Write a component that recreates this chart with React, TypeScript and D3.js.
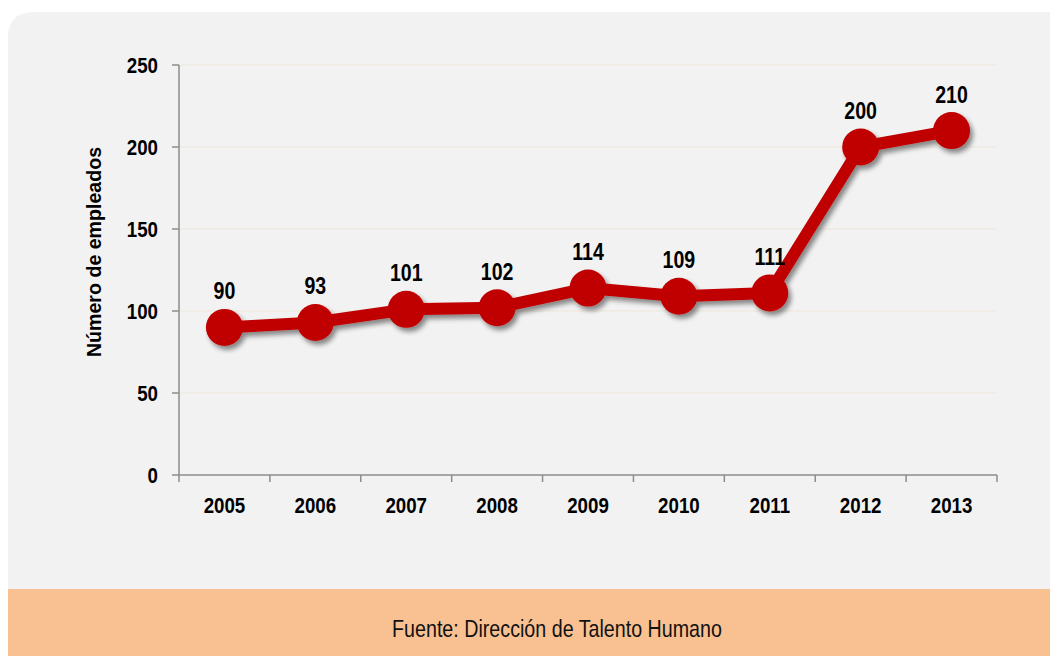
import React from "react";
import * as d3 from "d3";

const years = ["2005", "2006", "2007", "2008", "2009", "2010", "2011", "2012", "2013"];
const employees = [90, 93, 101, 102, 114, 109, 111, 200, 210];
const yTicks = [0, 50, 100, 150, 200, 250];
const yTitle = "Número de empleados";
const source = "Fuente: Dirección de Talento Humano";

const W = 1050;
const H = 656;
const FONT = "'Liberation Sans', Arial, sans-serif";

type NTProps = {
  x: number;
  y: number;
  sx?: number;
  size: number;
  bold?: boolean;
  anchor?: "start" | "middle" | "end";
  children: React.ReactNode;
};

function NText({ x, y, sx = 0.85, size, bold = true, anchor = "middle", children }: NTProps) {
  return (
    <text
      transform={`translate(${x},${y}) scale(${sx},1)`}
      textAnchor={anchor}
      fontFamily={FONT}
      fontWeight={bold ? "bold" : "normal"}
      fontSize={size}
      fill="#000"
    >
      {children}
    </text>
  );
}

export default function App() {
  const left = 179, right = 997, top = 65, bottom = 475;
  const x = d3.scaleBand<string>().domain(years).range([left, right]);
  const y = d3.scaleLinear().domain([0, 250]).range([bottom, top]);
  const cx = (i: number) => (x(years[i]) as number) + x.bandwidth() / 2;
  const line = d3
    .line<number>()
    .x((_, i) => cx(i))
    .y((d) => y(d));
  const boundaries = [...years.map((yr) => x(yr) as number), right];

  const panelPath = `M8,589 L8,38 Q8,12 34,12 L${W},12 L${W},589 Z`;

  return (
    <svg width={W} height={H} style={{ position: "absolute", left: 0, top: 0 }}>
      <defs>
        <filter id="sh" x="-50%" y="-50%" width="200%" height="200%">
          <feGaussianBlur in="SourceAlpha" stdDeviation="2.5" />
          <feOffset dx="3" dy="4" result="b" />
          <feComponentTransfer>
            <feFuncA type="linear" slope="0.45" />
          </feComponentTransfer>
          <feMerge>
            <feMergeNode />
            <feMergeNode in="SourceGraphic" />
          </feMerge>
        </filter>
      </defs>
      <rect x={0} y={0} width={W} height={H} fill="#ffffff" />
      <path d={panelPath} fill="#f2f2f2" />
      <rect x={8} y={589} width={W - 8} height={H - 589} fill="#f9c192" />
      <text
        transform={`translate(557,637) scale(0.82,1)`}
        textAnchor="middle"
        fontFamily={FONT}
        fontSize={24}
        fill="#111"
      >
        {source}
      </text>

      {yTicks.filter((t) => t > 0).map((t) => (
        <line key={"g" + t} x1={left} x2={right} y1={y(t)} y2={y(t)} stroke="#ece7da" strokeWidth={1} />
      ))}

      <line x1={left} x2={left} y1={top} y2={bottom} stroke="#8c8c8c" strokeWidth={1.5} />
      <line x1={left} x2={right} y1={bottom} y2={bottom} stroke="#8c8c8c" strokeWidth={1.5} />
      {yTicks.map((t) => (
        <g key={"y" + t}>
          <line x1={left - 7} x2={left} y1={y(t)} y2={y(t)} stroke="#8c8c8c" strokeWidth={1.5} />
          <NText x={158} y={y(t) + 8} size={22} anchor="end">
            {t}
          </NText>
        </g>
      ))}
      {boundaries.map((b, i) => (
        <line key={"xt" + i} x1={b} x2={b} y1={bottom} y2={bottom + 7} stroke="#8c8c8c" strokeWidth={1.5} />
      ))}
      {years.map((yr, i) => (
        <NText key={"xl" + yr} x={cx(i)} y={513} size={22}>
          {yr}
        </NText>
      ))}
      <text
        transform={`translate(101,252) rotate(-90) scale(0.98,1)`}
        textAnchor="middle"
        fontFamily={FONT}
        fontWeight="bold"
        fontSize={20}
        fill="#000"
      >
        {yTitle}
      </text>

      <g filter="url(#sh)">
        <path d={line(employees) || ""} fill="none" stroke="#c00000" strokeWidth={12} strokeLinejoin="round" />
        {employees.map((v, i) => (
          <circle key={"c" + i} cx={cx(i)} cy={y(v)} r={18.5} fill="#c00000" />
        ))}
      </g>
      {employees.map((v, i) => (
        <NText key={"l" + i} x={cx(i)} y={y(v) - 28} size={23}>
          {v}
        </NText>
      ))}
    </svg>
  );
}
